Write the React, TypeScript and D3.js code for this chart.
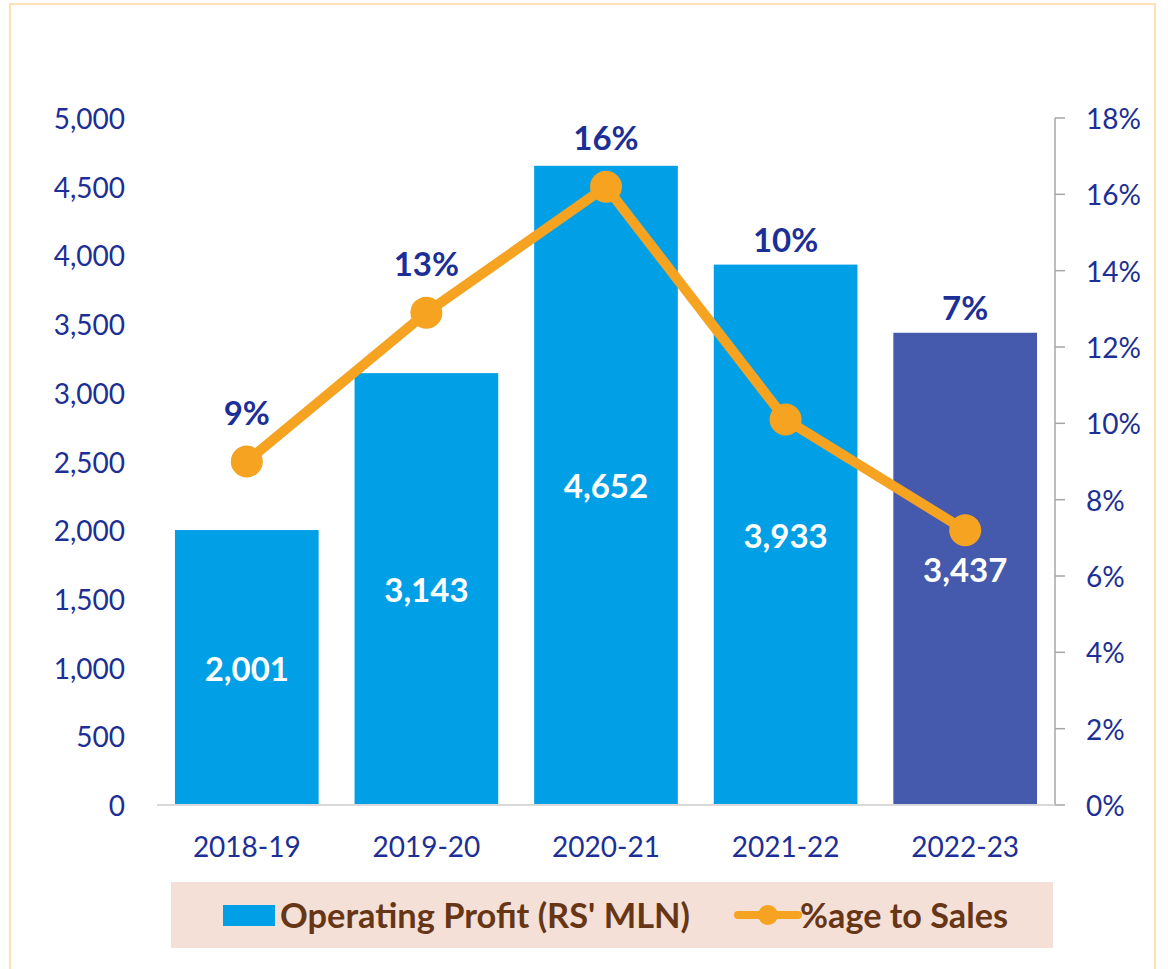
import React from "react";
import * as d3 from "d3";

const categories = ["2018-19", "2019-20", "2020-21", "2021-22", "2022-23"];
const operatingProfit = [2001, 3143, 4652, 3933, 3437];
const pctToSales = [9.0, 12.9, 16.2, 10.1, 7.2];
const pctLabels = ["9%", "13%", "16%", "10%", "7%"];
const leftTicks = [0, 500, 1000, 1500, 2000, 2500, 3000, 3500, 4000, 4500, 5000];
const rightTicks = [0, 2, 4, 6, 8, 10, 12, 14, 16, 18];
const seriesNames = ["Operating Profit (RS' MLN)", "%age to Sales"];

const W = 1168;
const H = 969;
const FONT = "Lato, 'Open Sans', 'Noto Sans', sans-serif";
const NAVY = "#1c2f96";
const BLUE = "#009fe6";
const LAST = "#4559ad";
const ORANGE = "#f5a321";
const BROWN = "#673616";

export default function App() {
  const x = d3.scaleBand<string>().domain(categories).range([157, 1055]).paddingInner(0.2).paddingOuter(0.1);
  const y = d3.scaleLinear().domain([0, 5000]).range([805, 118]);
  const y2 = d3.scaleLinear().domain([0, 18]).range([805, 118]);
  const fmt = d3.format(",");
  const cx = (c: string) => (x(c) as number) + x.bandwidth() / 2;
  const line = d3
    .line<number>()
    .x((_, i) => cx(categories[i]))
    .y((d) => y2(d));

  return (
    <svg width={W} height={H} style={{ position: "absolute", left: 0, top: 0, background: "#fff" }} fontFamily={FONT}>
      <rect x={10} y={4} width={1145} height={1000} fill="#fff" stroke="#fbe1b4" strokeWidth={2} />
      {/* left axis labels */}
      {leftTicks.map((t) => (
        <text key={"l" + t} x={125} y={y(t)} textAnchor="end" dominantBaseline="central" fontSize={28} fill={NAVY}>
          {fmt(t)}
        </text>
      ))}
      {/* right axis */}
      <line x1={1055} x2={1055} y1={y2(18)} y2={y2(0)} stroke="#a6a6a6" strokeWidth={1.5} />
      {rightTicks.map((t) => (
        <g key={"r" + t}>
          <line x1={1055} x2={1065} y1={y2(t)} y2={y2(t)} stroke="#a6a6a6" strokeWidth={1.5} />
          <text x={1086} y={y2(t)} dominantBaseline="central" fontSize={28} fill={NAVY}>
            {t + "%"}
          </text>
        </g>
      ))}
      {/* bars */}
      {operatingProfit.map((v, i) => (
        <rect
          key={"b" + i}
          x={x(categories[i])}
          y={y(v)}
          width={x.bandwidth()}
          height={y(0) - y(v)}
          fill={i === categories.length - 1 ? LAST : BLUE}
        />
      ))}
      {/* baseline */}
      <line x1={157} x2={1055} y1={805} y2={805} stroke="#d9d9d9" strokeWidth={2} />
      {/* bar value labels */}
      {operatingProfit.map((v, i) => (
        <text
          key={"bv" + i}
          x={cx(categories[i])}
          y={(y(v) + y(0)) / 2}
          textAnchor="middle"
          dominantBaseline="central"
          fontSize={33}
          fontWeight={700}
          fill="#fff"
        >
          {fmt(v)}
        </text>
      ))}
      {/* line */}
      <path d={line(pctToSales) || ""} fill="none" stroke={ORANGE} strokeWidth={10} strokeLinejoin="round" />
      {pctToSales.map((p, i) => (
        <circle key={"c" + i} cx={cx(categories[i])} cy={y2(p)} r={16} fill={ORANGE} />
      ))}
      {/* pct labels */}
      {pctToSales.map((p, i) => {
        const ly = Math.min(y(operatingProfit[i]) - 26, y2(p) - 50);
        return (
          <text
            key={"pl" + i}
            x={cx(categories[i])}
            y={ly}
            textAnchor="middle"
            dominantBaseline="central"
            fontSize={33}
            fontWeight={700}
            fill={NAVY}
          >
            {pctLabels[i]}
          </text>
        );
      })}
      {/* x labels */}
      {categories.map((c) => (
        <text key={"x" + c} x={cx(c)} y={846} textAnchor="middle" dominantBaseline="central" fontSize={28} fill={NAVY}>
          {c}
        </text>
      ))}
      {/* legend */}
      <rect x={171} y={882} width={882} height={66} fill="#f4e0d6" />
      <rect x={223} y={905} width={52} height={21} fill={BLUE} />
      <text x={280} y={928} fontSize={34} fontWeight={700} fill={BROWN} textLength={410} lengthAdjust="spacingAndGlyphs">
        {seriesNames[0]}
      </text>
      <line x1={738} x2={798} y1={915} y2={915} stroke={ORANGE} strokeWidth={8} strokeLinecap="round" />
      <circle cx={768} cy={915} r={10} fill={ORANGE} />
      <text x={800} y={928} fontSize={34} fontWeight={700} fill={BROWN} textLength={208} lengthAdjust="spacingAndGlyphs">
        {seriesNames[1]}
      </text>
    </svg>
  );
}
